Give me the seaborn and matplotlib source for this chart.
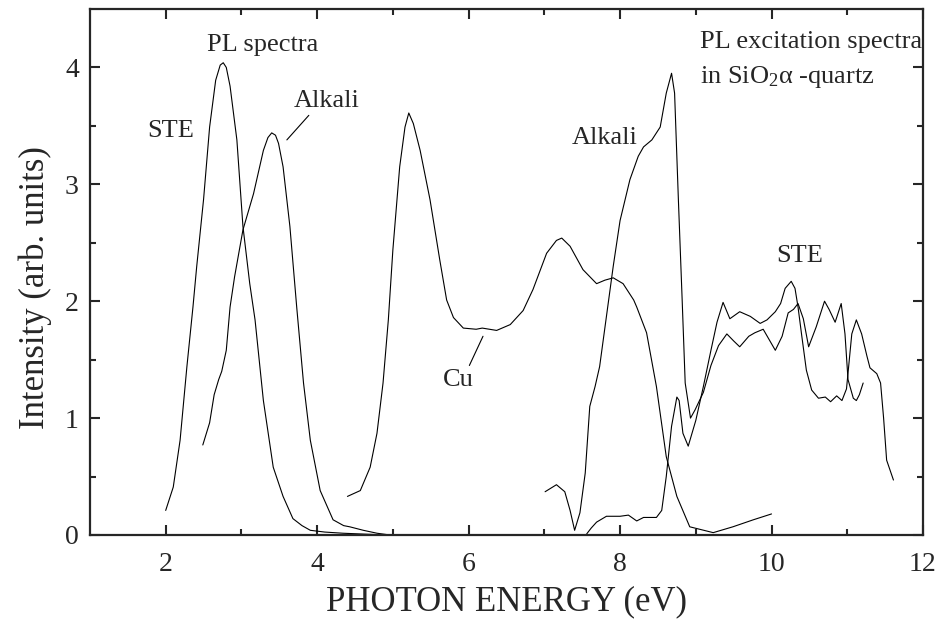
import numpy as np
import pandas as pd
import seaborn as sns
import matplotlib.pyplot as plt

# PL emission spectra
ste_pl_x = [2.00, 2.10, 2.19, 2.28, 2.36, 2.41, 2.50, 2.58, 2.66, 2.72, 2.76, 2.80, 2.85, 2.94,
            3.02, 3.11, 3.18, 3.29, 3.42, 3.55, 3.68, 3.80, 3.91, 4.10, 4.34, 4.60, 4.92]
ste_pl_y = [0.21, 0.41, 0.81, 1.44, 1.95, 2.30, 2.87, 3.49, 3.89, 4.02, 4.04, 4.00, 3.84, 3.38,
            2.64, 2.15, 1.84, 1.15, 0.58, 0.33, 0.14, 0.08, 0.04, 0.025, 0.015, 0.008, 0.0]

alk_pl_x = [2.49, 2.58, 2.64, 2.70, 2.74, 2.80, 2.85, 2.91, 3.02, 3.16, 3.29, 3.35, 3.40, 3.45,
            3.49, 3.55, 3.64, 3.73, 3.82, 3.91, 4.04, 4.21, 4.35, 4.43, 4.61, 4.79, 4.96]
alk_pl_y = [0.77, 0.96, 1.20, 1.33, 1.40, 1.58, 1.95, 2.21, 2.61, 2.92, 3.29, 3.40, 3.44, 3.42,
            3.35, 3.15, 2.64, 1.95, 1.30, 0.81, 0.38, 0.13, 0.08, 0.07, 0.04, 0.015, 0.0]

# PL excitation spectra
cu_ple_x = [4.40, 4.57, 4.70, 4.79, 4.87, 4.94, 5.00, 5.09, 5.16, 5.21, 5.27, 5.36, 5.49, 5.62,
            5.71, 5.80, 5.93, 6.10, 6.18, 6.37, 6.55, 6.72, 6.85, 7.03, 7.16, 7.23, 7.34, 7.51,
            7.69, 7.80, 7.91, 8.04, 8.18, 8.22, 8.35, 8.48, 8.61, 8.75, 8.92, 9.23, 9.49, 9.76, 10.00]
cu_ple_y = [0.33, 0.38, 0.58, 0.87, 1.30, 1.84, 2.44, 3.15, 3.49, 3.61, 3.52, 3.29, 2.87, 2.35,
            2.01, 1.86, 1.77, 1.76, 1.77, 1.75, 1.80, 1.92, 2.10, 2.41, 2.52, 2.54, 2.47, 2.27,
            2.15, 2.18, 2.20, 2.15, 2.01, 1.95, 1.73, 1.27, 0.67, 0.33, 0.07, 0.02, 0.07, 0.13, 0.18]

alk_ple_x = [7.01, 7.16, 7.27, 7.34, 7.40, 7.47, 7.54, 7.60, 7.67, 7.73, 7.82, 7.91, 8.00, 8.13,
             8.24, 8.31, 8.42, 8.53, 8.61, 8.68, 8.72, 8.77, 8.82, 8.86, 8.93, 8.99, 9.10, 9.20,
             9.30, 9.41, 9.50, 9.58, 9.70, 9.78, 9.89, 9.97, 10.05, 10.14, 10.22, 10.29, 10.35,
             10.42, 10.49, 10.59, 10.70, 10.76, 10.84, 10.92, 10.97, 11.01, 11.08, 11.12, 11.16, 11.21]
alk_ple_y = [0.37, 0.43, 0.37, 0.21, 0.04, 0.19, 0.53, 1.10, 1.27, 1.44, 1.87, 2.30, 2.69, 3.04,
             3.24, 3.32, 3.38, 3.49, 3.78, 3.95, 3.78, 2.87, 2.01, 1.30, 1.00, 1.07, 1.22, 1.45,
             1.62, 1.72, 1.66, 1.61, 1.70, 1.73, 1.76, 1.67, 1.58, 1.70, 1.90, 1.93, 1.98,
             1.85, 1.61, 1.78, 2.00, 1.93, 1.82, 1.98, 1.72, 1.33, 1.17, 1.15, 1.20, 1.30]

ste_ple_x = [7.56, 7.62, 7.69, 7.82, 8.00, 8.11, 8.22, 8.31, 8.48, 8.55, 8.61, 8.68, 8.75, 8.78,
             8.83, 8.90, 9.00, 9.10, 9.20, 9.28, 9.36, 9.45, 9.58, 9.72, 9.85, 9.94, 10.05, 10.12,
             10.18, 10.26, 10.31, 10.35, 10.40, 10.46, 10.53, 10.62, 10.71, 10.78, 10.86, 10.93,
             10.99, 11.06, 11.12, 11.19, 11.26, 11.30, 11.39, 11.44, 11.48, 11.52, 11.61]
ste_ple_y = [0.01, 0.06, 0.11, 0.16, 0.16, 0.17, 0.12, 0.15, 0.15, 0.21, 0.50, 0.93, 1.18, 1.15,
             0.87, 0.76, 0.98, 1.27, 1.58, 1.82, 1.99, 1.85, 1.91, 1.87, 1.81, 1.84, 1.91, 1.98,
             2.11, 2.17, 2.11, 1.95, 1.70, 1.41, 1.24, 1.17, 1.18, 1.14, 1.19, 1.15,
             1.25, 1.72, 1.84, 1.72, 1.53, 1.43, 1.38, 1.30, 1.00, 0.64, 0.47]

curves = [(ste_pl_x, ste_pl_y), (alk_pl_x, alk_pl_y), (cu_ple_x, cu_ple_y),
          (alk_ple_x, alk_ple_y), (ste_ple_x, ste_ple_y)]

sns.set_style('ticks')
plt.rcParams['font.family'] = ['Liberation Serif', 'DejaVu Serif']
plt.rcParams['mathtext.fontset'] = 'custom'
plt.rcParams['mathtext.rm'] = 'Liberation Serif'
plt.rcParams['mathtext.it'] = 'Liberation Serif:italic'

fig = plt.figure(figsize=(9.45, 6.41), dpi=100)
ax = fig.add_axes([0.0952, 0.1654, 0.8815, 0.8206])

for cx, cy in curves:
    sns.lineplot(x=cx, y=cy, ax=ax, color='black', lw=0.8, sort=False)

ax.set_xlim(1, 12)
ax.set_ylim(0, 4.5)
ax.set_xticks([2, 4, 6, 8, 10, 12])
ax.set_xticks(np.arange(3, 12, 2), minor=True)
ax.set_yticks([0, 1, 2, 3, 4])
ax.set_yticks(np.arange(0.5, 4.5, 1), minor=True)
ax.tick_params(which='both', direction='in', top=True, right=True, width=1.5, labelsize=20)
ax.tick_params(which='major', length=7)
ax.tick_params(which='minor', length=4)
ax.tick_params(axis='x', which='major', pad=12)
ax.tick_params(axis='y', which='major', pad=8)
for sp in ax.spines.values():
    sp.set_linewidth(1.6)

ax.set_xlabel('PHOTON ENERGY (eV)', fontsize=25, labelpad=6)
ax.set_ylabel('Intensity (arb. units)', fontsize=25)
ax.yaxis.set_label_coords(-0.046, 0.47)

# annotations
fs = 19
ax.text(2.54, 4.19, 'PL spectra', fontsize=fs, va='center', ha='left')
ax.text(2.06, 3.46, 'STE', fontsize=fs, va='center', ha='center')
ax.text(4.12, 3.71, 'Alkali', fontsize=fs, va='center', ha='center')
ax.annotate('', xy=(3.60, 3.38), xytext=(3.89, 3.59),
            arrowprops=dict(arrowstyle='-', lw=0.8, color='black', shrinkA=0, shrinkB=0))
ax.text(5.87, 1.33, 'Cu', fontsize=fs, va='center', ha='center')
ax.annotate('', xy=(6.19, 1.70), xytext=(6.01, 1.45),
            arrowprops=dict(arrowstyle='-', lw=0.8, color='black', shrinkA=0, shrinkB=0))
ax.text(7.80, 3.40, 'Alkali', fontsize=fs, va='center', ha='center')
ax.text(9.05, 4.22, 'PL excitation spectra', fontsize=fs, va='center', ha='left')
ax.text(9.05, 3.92, r'in SiO$_2$α -quartz', fontsize=fs, va='center', ha='left')
ax.text(10.37, 2.39, 'STE', fontsize=fs, va='center', ha='center')

fig.savefig('out.png', dpi=100)
